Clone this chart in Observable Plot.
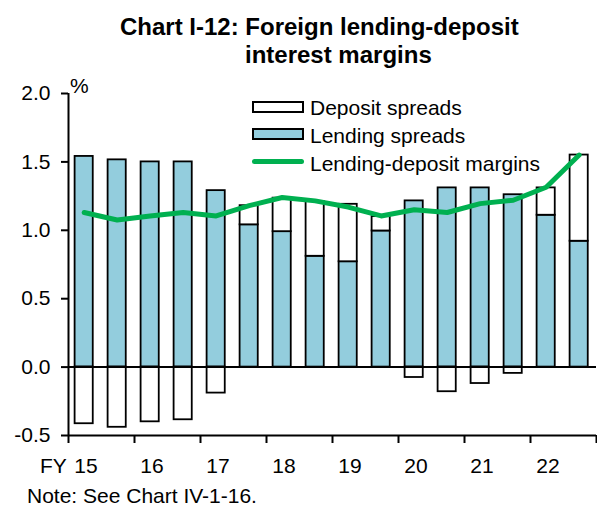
<!DOCTYPE html>
<html>
<head>
<meta charset="utf-8">
<script src="https://cdn.jsdelivr.net/npm/d3@7"></script>
<script src="https://cdn.jsdelivr.net/npm/@observablehq/plot@0.6"></script>
<style>
  html, body { margin: 0; padding: 0; background: white; }
  #wrap { position: relative; width: 597px; height: 508px; overflow: hidden; font-family: "Liberation Sans", Arial, sans-serif; color: black; }
  .abs { position: absolute; white-space: nowrap; line-height: 1; }
  .title { font-weight: bold; font-size: 24px; }
  .lg { font-size: 21px; }
  .sw { position: absolute; box-sizing: border-box; border: 2px solid black; }
  #chart { position: absolute; left: 0; top: 0; }
</style>
</head>
<body>
<div id="wrap">
  <div id="chart"></div>
  <div class="abs title" style="left:120px; top:15px;">Chart I-12: Foreign lending-deposit</div>
  <div class="abs title" style="left:245px; top:43px;">interest margins</div>
  <div class="abs lg" style="left:70px; top:75px;">%</div>
  <div class="sw" style="left:252px; top:101px; width:52px; height:12px; background:white;"></div>
  <div class="abs lg" style="left:310px; top:97px;">Deposit spreads</div>
  <div class="sw" style="left:252px; top:128px; width:52px; height:12px; background:#93cddd;"></div>
  <div class="abs lg" style="left:310px; top:125px;">Lending spreads</div>
  <div style="position:absolute; left:252px; top:158.5px; width:52px; height:5px; border-radius:2.5px; background:#00b050;"></div>
  <div class="abs lg" style="left:310px; top:153px;">Lending-deposit margins</div>
  <div class="abs lg" style="left:40px; top:455px;">FY</div>
  <div class="abs lg" style="left:27px; top:485px;">Note: See Chart IV-1-16.</div>
</div>
<script>
// Half-year periods FY15 H1 ... FY22 H2
const periods = ["15H1","15H2","16H1","16H2","17H1","17H2","18H1","18H2","19H1","19H2","20H1","20H2","21H1","21H2","22H1","22H2"];
const years = ["15","16","17","18","19","20","21","22"];
const lending = [1.54, 1.515, 1.50, 1.50, 1.29, 1.04, 0.99, 0.81, 0.77, 0.995, 1.215, 1.31, 1.31, 1.26, 1.11, 0.92];
const deposit = [-0.414, -0.44, -0.40, -0.385, -0.19, 0.14, 0.245, 0.40, 0.42, 0.105, -0.076, -0.18, -0.12, -0.046, 0.20, 0.63];
const margin = [1.13, 1.075, 1.105, 1.13, 1.105, 1.18, 1.24, 1.215, 1.17, 1.105, 1.15, 1.13, 1.195, 1.22, 1.315, 1.55];
const yTicks = [-0.5, 0, 0.5, 1.0, 1.5, 2.0];

const rows = periods.map((p, i) => ({period: p, i, lending: lending[i], deposit: deposit[i], margin: margin[i]}));
const boundaries = d3.range(0, periods.length + 1, 2);
const labelPos = years.map((y, k) => 2 * k + 0.53);

const chart = Plot.plot({
  width: 597,
  height: 508,
  marginTop: 93,
  marginBottom: 73,
  marginLeft: 68,
  marginRight: 1,
  style: {fontFamily: '"Liberation Sans", Arial, sans-serif', fontSize: "21px", color: "black", background: "transparent", overflow: "visible"},
  x: {domain: [0, periods.length], axis: null},
  y: {domain: [-0.5, 2.0], axis: null},
  marks: [
    Plot.rect(rows, {x1: d => d.i + 0.2, x2: d => d.i + 0.75, y1: 0, y2: "lending", fill: "#93cddd", stroke: "black", strokeWidth: 1.8}),
    Plot.rect(rows, {
      x1: d => d.i + 0.2, x2: d => d.i + 0.75,
      y1: d => d.deposit > 0 ? d.lending : 0,
      y2: d => d.deposit > 0 ? d.lending + d.deposit : d.deposit,
      fill: "white", stroke: "black", strokeWidth: 1.8
    }),
    Plot.ruleY([0], {stroke: "black", strokeWidth: 2}),
    Plot.ruleY([-0.5], {stroke: "black", strokeWidth: 2}),
    Plot.ruleX([0], {y1: -0.5, y2: 2.0, stroke: "black", strokeWidth: 2}),
    Plot.axisY({ticks: yTicks, anchor: "left", tickSize: 7, tickPadding: 11, strokeWidth: 2, fontSize: 21, tickFormat: d => d.toFixed(1)}),
    Plot.axisX({ticks: boundaries, anchor: "bottom", tickSize: 8, strokeWidth: 2, tickFormat: () => ""}),
    Plot.axisX({ticks: labelPos, anchor: "bottom", tickSize: 0, tickPadding: 23, fontSize: 21, tickFormat: d => years[Math.round((d - 0.53) / 2)]}),
    Plot.line(rows, {x: d => d.i + 0.475, y: "margin", stroke: "#00b050", strokeWidth: 5, strokeLinejoin: "round", strokeLinecap: "round"})
  ]
});
document.getElementById("chart").appendChild(chart);
</script>
</body>
</html>
